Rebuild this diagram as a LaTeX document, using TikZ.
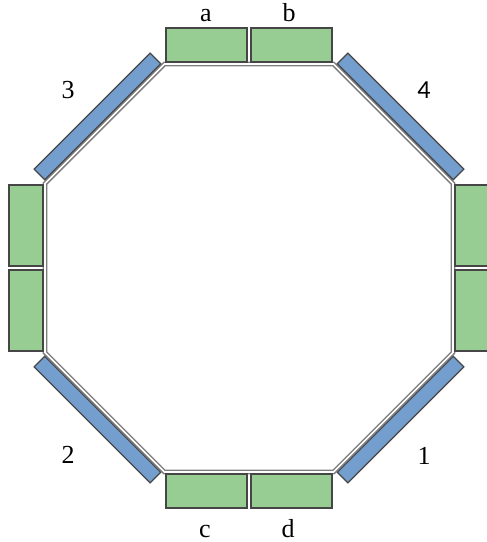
\documentclass[tikz,border=0pt]{standalone}
\usepackage{fontspec}
\setmainfont{Liberation Serif}
\newfontfamily\labelsans{Carlito}
\definecolor{boxgreen}{RGB}{151,204,146}
\definecolor{boxblue}{RGB}{115,158,206}
\definecolor{edgegray}{RGB}{70,70,70}
\definecolor{ringgray}{RGB}{125,125,125}
\begin{document}
\begin{tikzpicture}[x=1pt,y=-1pt,
  greenbox/.style={draw=edgegray, fill=boxgreen, line width=1.2pt, inner sep=0pt, outer sep=0pt},
  hbox/.style={greenbox, minimum width=81pt, minimum height=34pt},
  vbox/.style={greenbox, minimum width=34pt, minimum height=81pt},
  bluebar/.style={draw=edgegray, fill=boxblue, line width=1.2pt, inner sep=0pt, outer sep=0pt,
    minimum width=164pt, minimum height=15pt},
  lbl/.style={font=\fontsize{26}{30}\selectfont, inner sep=0pt, anchor=base},
  ring/.style={draw=ringgray, line width=1.5pt, double=white, double distance=1.6pt}]
\useasboundingbox (0,0) rectangle (487,542);
\clip (0,0) rectangle (487,542);
% octagon corners
\coordinate (t1) at (164.5,64);
\coordinate (t2) at (333.5,64);
\coordinate (r1) at (453,183.5);
\coordinate (r2) at (453,352.5);
\coordinate (b2) at (333.5,472);
\coordinate (b1) at (164.5,472);
\coordinate (l2) at (45,352.5);
\coordinate (l1) at (45,183.5);
\draw[ring] (t1) -- (t2) -- (r1) -- (r2) -- (b2) -- (b1) -- (l2) -- (l1) -- cycle;
% green boxes
\node[hbox] (a) at (206.5,45) {};
\node[hbox] (b) at (291.5,45) {};
\node[hbox] (c) at (206.5,491) {};
\node[hbox] (d) at (291.5,491) {};
\node[vbox] (lu) at (26,225.5) {};
\node[vbox] (ll) at (26,310.5) {};
\node[vbox] (ru) at (472,225.5) {};
\node[vbox] (rl) at (472,310.5) {};
% blue bars
\node[bluebar, rotate=-45] (s4) at (400.6,116.4) {};
\node[bluebar, rotate=45] (s1) at (400.6,419.6) {};
\node[bluebar, rotate=-45] (s2) at (97.4,419.6) {};
\node[bluebar, rotate=45] (s3) at (97.4,116.4) {};
% labels
\node[lbl] (la) at (206,21) {a};
\node[lbl] (lb) at (289,21) {b};
\node[lbl] (lc) at (205,537) {c};
\node[lbl] (ld) at (288,537) {d};
\node[lbl] (l3) at (68,98) {3};
\node[lbl, font=\labelsans\fontsize{26}{30}\selectfont] (l4) at (424,98) {4};
\node[lbl] (l2t) at (68,463) {2};
\node[lbl] (l1t) at (424,464) {1};
\end{tikzpicture}
\end{document}
